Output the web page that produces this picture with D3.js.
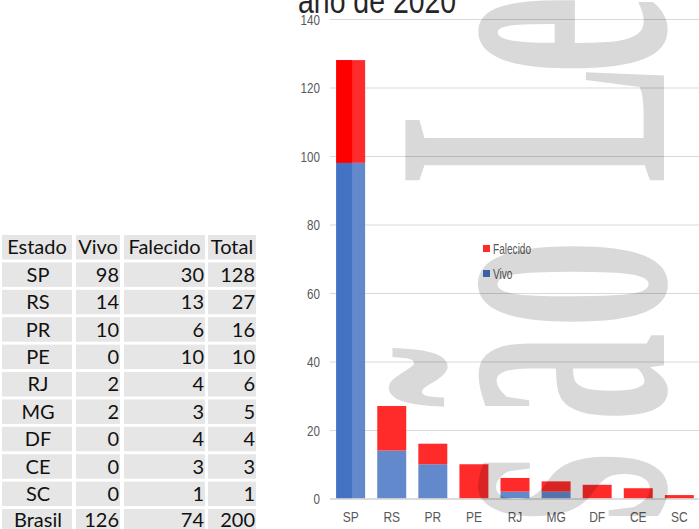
<!DOCTYPE html>
<html><head><meta charset="utf-8">
<script src="https://cdn.jsdelivr.net/npm/d3@7"></script>
<style>html,body{margin:0;padding:0;background:#fff;}svg{display:block;}</style>
</head><body>
<svg id="c" width="699" height="529"></svg>
<script>
// ---- data ----
const estados   = ["SP","RS","PR","PE","RJ","MG","DF","CE","SC"];
const vivo      = [98,14,10,0,2,2,0,0,0];
const falecido  = [30,13,6,10,4,3,4,3,1];
const total     = [128,27,16,10,6,5,4,3,1];
const brasilRow = ["Brasil",126,74,200];
const tableHeader = ["Estado","Vivo","Falecido","Total"];
const seriesNames = ["Vivo","Falecido"];
const yTicks = [0,20,40,60,80,100,120,140];
const titleText = "ano de 2020";
const watermarkText = ["s","ã","o","L","e"];

const svg = d3.select("#c");

// ---- table ----
const colX = [[2,72],[76,120],[124,205],[208,256]];
const rowTop = 235, rowStep = 27.4, rowH = 24.5;
const rows = estados.map((e,i)=>[e,vivo[i],falecido[i],total[i]]);
const allRows = [tableHeader, ...rows, brasilRow];
const tg = svg.append("g").attr("font-family","Lato, 'Open Sans', sans-serif").attr("font-size",20).attr("fill","#111");
allRows.forEach((r,i)=>{
  const top = rowTop + i*rowStep;
  r.forEach((v,j)=>{
    tg.append("rect").attr("x",colX[j][0]).attr("y",top).attr("width",colX[j][1]-colX[j][0]).attr("height",rowH).attr("fill","#e7e6e6");
    const t = tg.append("text").attr("y",top+rowH/2 - (i===allRows.length-1?1.5:0)).attr("dy","0.36em").text(v);
    if(i===0){
      t.attr("x",(colX[j][0]+colX[j][1])/2).attr("text-anchor","middle");
    } else if(j===0){
      t.attr("x",(colX[j][0]+colX[j][1])/2+1).attr("text-anchor","middle");
    } else {
      t.attr("x",colX[j][1]-1).attr("text-anchor","end");
    }
  });
});

// ---- chart ----
const x = d3.scaleBand().domain(estados).range([330,700]).paddingInner(0.295).paddingOuter(0.15);
const y = d3.scaleLinear().domain([0,140]).range([498.5,19]);
const data = estados.map((e,i)=>({estado:e, Vivo:vivo[i], Falecido:falecido[i]}));
const stack = d3.stack().keys(seriesNames)(data);
const light = {Vivo:"#6389cd", Falecido:"#ff2b2b"};
const dark  = {Vivo:"#4472c4", Falecido:"#ff0000"};

// gridlines
svg.append("g").selectAll("line").data(yTicks.filter(d=>d>0)).join("line")
  .attr("x1",330).attr("x2",699).attr("y1",d=>y(d)+0.5).attr("y2",d=>y(d)+0.5)
  .attr("stroke","#d9d9d9").attr("stroke-width",1);

// y axis labels
const ya = svg.append("g").attr("transform","translate(320,0)")
  .call(d3.axisLeft(y).tickValues(yTicks).tickSize(0).tickPadding(0));
ya.select(".domain").remove();
ya.selectAll("text").attr("x",0).attr("dy","0.36em")
  .attr("font-family","'Liberation Sans', Arial, sans-serif").attr("font-size",14).attr("fill","#595959")
  .attr("transform","scale(0.83,1)");

// bars
svg.append("clipPath").attr("id","leftHalf").append("rect")
  .attr("x",x("SP")).attr("y",0).attr("width",x.bandwidth()*0.55).attr("height",529);
function drawBars(colors, clipped){
  const g = svg.append("g");
  if(clipped) g.attr("clip-path","url(#leftHalf)");
  g.selectAll("g").data(stack).join("g").attr("fill",d=>colors[d.key])
    .selectAll("rect").data(d=>d).join("rect")
    .attr("x",d=>x(d.data.estado)).attr("width",x.bandwidth())
    .attr("y",d=>y(d[1])).attr("height",d=>y(d[0])-y(d[1]));
}
drawBars(light,false);
drawBars(dark,true);

// baseline
svg.append("line").attr("x1",330).attr("x2",699).attr("y1",y(0)+0.5).attr("y2",y(0)+0.5)
  .attr("stroke","#d0d0d0").attr("stroke-width",1.5);

// x axis labels
const xa = svg.append("g").attr("transform","translate(0,517)")
  .call(d3.axisBottom(x).tickSize(0).tickPadding(0));
xa.select(".domain").remove();
xa.selectAll("text").attr("y",0).attr("dy","0.36em")
  .attr("font-family","'Liberation Sans', Arial, sans-serif").attr("font-size",15).attr("fill","#595959")
  .attr("transform","scale(0.8,1)");
xa.selectAll(".tick").each(function(d){
  d3.select(this).attr("transform",`translate(${x(d)+x.bandwidth()/2},0)`);
});

// legend
const legendItems = ["Falecido","Vivo"];
const lg = svg.append("g");
legendItems.forEach((k,i)=>{
  const ly = 248.5 + i*25;
  lg.append("rect").attr("x",483).attr("y",ly-3.5).attr("width",7).attr("height",7).attr("fill",k==="Vivo"?dark[k]:light[k]);
  lg.append("text").attr("transform",`translate(493,${ly}) scale(0.72,1)`).attr("dy","0.36em")
    .attr("font-family","'Liberation Sans', Arial, sans-serif").attr("font-size",14).attr("fill","#595959").text(k);
});

// title (cut off at top)
svg.append("text").attr("transform","translate(298,12.5) scale(0.79,1)")
  .attr("font-family","'Liberation Sans', Arial, sans-serif").attr("font-size",36).attr("fill","#262626").text(titleText);

// watermark
const wmPos = [487,377,284,124,35];
const wm = svg.append("g").attr("fill","#000").attr("fill-opacity",0.15).attr("pointer-events","none");
watermarkText.forEach((ch,i)=>{
  wm.append("text").attr("transform",`translate(664,${wmPos[i]}) rotate(-90) scale(0.45,1)`)
    .attr("text-anchor","middle").attr("font-family","'Liberation Serif', 'DejaVu Serif', serif")
    .attr("font-weight","bold").attr("font-size",395).text(ch);
});
</script>
</body></html>
